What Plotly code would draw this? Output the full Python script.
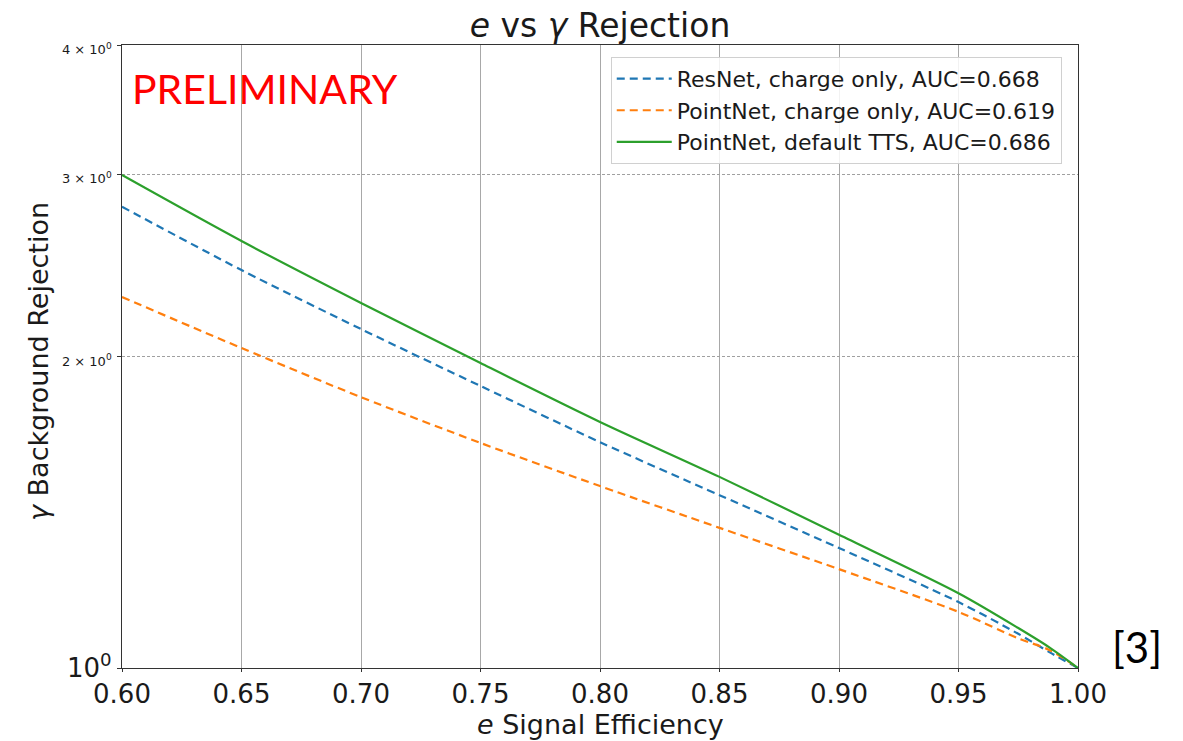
import plotly.graph_objects as go

eff = [0.60, 0.65, 0.70, 0.75, 0.80, 0.85, 0.90, 0.95, 0.975, 0.988, 1.00]
resnet_charge = [2.791, 2.424, 2.126, 1.873, 1.653, 1.469, 1.306, 1.158, 1.079, 1.036, 1.0]
pointnet_charge = [2.283, 2.038, 1.827, 1.650, 1.499, 1.366, 1.246, 1.133, 1.068, 1.041, 1.0]
pointnet_tts = [2.995, 2.586, 2.253, 1.971, 1.729, 1.530, 1.345, 1.181, 1.093, 1.047, 1.0]

names = ["ResNet, charge only, AUC=0.668",
         "PointNet, charge only, AUC=0.619",
         "PointNet, default TTS, AUC=0.686"]
x_ticks = [0.60, 0.65, 0.70, 0.75, 0.80, 0.85, 0.90, 0.95, 1.00]
y_ticks = [1, 2, 3, 4]
y_ticktext = ["10<sup>0</sup>",
              "<span style='font-size:13px'>2 × 10<sup>0</sup></span>",
              "<span style='font-size:13px'>3 × 10<sup>0</sup></span>",
              "<span style='font-size:13px'>4 × 10<sup>0</sup></span>"]

FONT = "DejaVu Sans"
TXT = "#1a1a1a"
W, H = 1175, 733
L, R, T, B = 114, 105, 37, 73

fig = go.Figure()
fig.add_trace(go.Scatter(x=eff, y=resnet_charge, mode="lines", name=names[0],
                         line=dict(color="#1f77b4", width=2.2, dash="8px,5px", shape="spline", smoothing=0.8)))
fig.add_trace(go.Scatter(x=eff, y=pointnet_charge, mode="lines", name=names[1],
                         line=dict(color="#ff7f0e", width=2.2, dash="8px,5px", shape="spline", smoothing=0.8)))
fig.add_trace(go.Scatter(x=eff, y=pointnet_tts, mode="lines", name=names[2],
                         line=dict(color="#2ca02c", width=2.2, shape="spline", smoothing=0.8)))

fig.update_layout(
    width=W, height=H,
    margin=dict(l=L, r=R, t=T, b=B, autoexpand=False),
    paper_bgcolor="white", plot_bgcolor="white",
    font=dict(family=FONT, color=TXT),
    title=dict(text="<i>e</i> vs <i>γ</i> Rejection", x=(L + (W - R)) / 2 / W, xanchor="center",
               y=1 - 17 / H, yanchor="middle", font=dict(size=33, family=FONT, color=TXT),
               automargin=False),
    showlegend=True,
    legend=dict(x=0.983, y=0.981, xanchor="right", yanchor="top",
                bgcolor="rgba(255,255,255,0.85)", bordercolor="#d0d0d0", borderwidth=1,
                font=dict(size=22, family=FONT, color=TXT),
                tracegroupgap=0, itemwidth=55),
)
fig.update_xaxes(
    range=[0.6, 1.0], tickvals=x_ticks, ticktext=[f"{v:.2f}" for v in x_ticks],
    showgrid=True, gridcolor="#a8a8a8", gridwidth=1,
    showline=True, linecolor="#333333", linewidth=1.2, mirror=True,
    ticks="outside", ticklen=3, tickcolor="#333333",
    tickfont=dict(size=26, family=FONT, color=TXT),
    zeroline=False, automargin=False,
)
fig.update_yaxes(
    type="log", range=[0, 0.60206], tickvals=y_ticks, ticktext=y_ticktext,
    showgrid=True, gridcolor="#a0a0a0", gridwidth=1, griddash="3px,2px",
    showline=True, linecolor="#333333", linewidth=1.2, mirror=True,
    ticks="outside", ticklen=4, tickcolor="#333333",
    tickfont=dict(size=26, family=FONT, color=TXT),
    zeroline=False, automargin=False,
)

plot_h = H - T - B
plot_w = W - L - R
# axis titles as annotations (page offset of 8px accounted for)
fig.add_annotation(text="<i>e</i> Signal Efficiency", xref="paper", yref="paper",
                   x=0.5, y=((H - B) - (724 - 8)) / plot_h, xanchor="center", yanchor="middle",
                   showarrow=False, font=dict(size=27, family=FONT, color=TXT))
fig.add_annotation(text="<i>γ</i> Background Rejection", xref="paper", yref="paper",
                   x=((38 - 8) - L) / plot_w, y=((H - B) - (362 - 8)) / plot_h,
                   xanchor="center", yanchor="middle", textangle=-90,
                   showarrow=False, font=dict(size=27, family=FONT, color=TXT))

fig.add_annotation(text="PRELIMINARY", xref="paper", yref="paper", x=0.008, y=0.93,
                   xanchor="left", yanchor="middle", showarrow=False,
                   font=dict(size=41, family="Lato", color="#ff0000"))
fig.add_annotation(text="[3]", xref="paper", yref="paper", x=1.033, y=0.034,
                   xanchor="left", yanchor="middle", showarrow=False,
                   font=dict(size=42, family="Lato", color="#000000"))

fig.write_html("out.html")
